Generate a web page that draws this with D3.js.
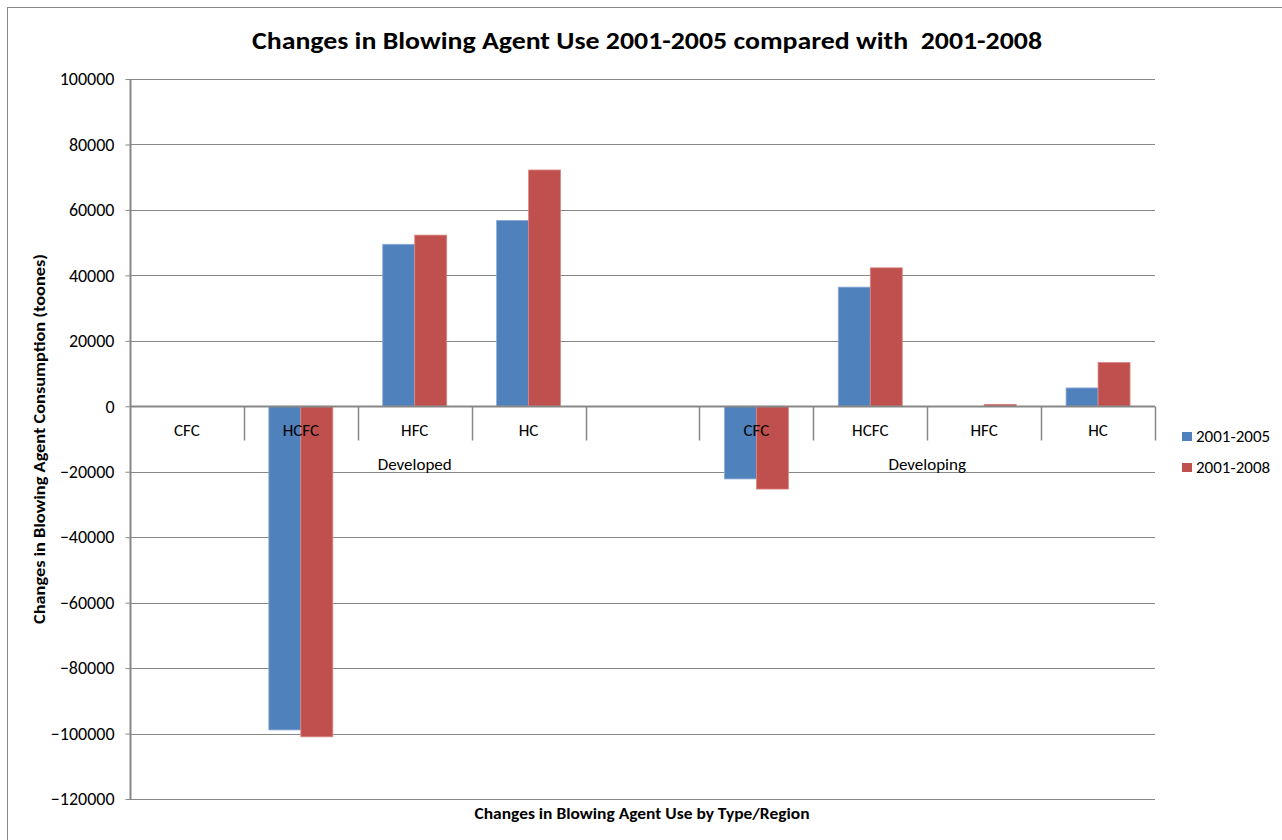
<!DOCTYPE html>
<html>
<head>
<meta charset="utf-8">
<script src="https://cdn.jsdelivr.net/npm/d3@7"></script>
<style>
  html, body { margin: 0; padding: 0; background: #fff; }
  svg { display: block; font-family: Carlito, Calibri, Lato, "Open Sans", sans-serif; }
</style>
</head>
<body>
<svg id="chart" width="1282" height="840"></svg>
<script>
// Category slots: technology type with its region (one empty slot separates the regions)
const categories = ["CFC", "HCFC", "HFC", "HC", "", "CFC", "HCFC", "HFC", "HC"];
const regions    = ["Developed", "Developed", "Developed", "Developed", "Developed",
                    "Developing", "Developing", "Developing", "Developing"];
const seriesNames = ["2001-2005", "2001-2008"];
const values2005 = [0, -98900, 49500, 56800, 0, -22200, 36400, 0, 5600];
const values2008 = [0, -101000, 52300, 72200, 0, -25300, 42300, 600, 13400];
const yTicks = [100000, 80000, 60000, 40000, 20000, 0, -20000, -40000, -60000, -80000, -100000, -120000];
const colors = ["#4F81BD", "#C0504D"];
const edgeColors = ["#8eaad6", "#d98986"];

const svg = d3.select("#chart");
const plotLeft = 130, plotRight = 1155, plotTop = 79, plotBottom = 799;
const gridColor = "#878787";
const labelSize = 17;

// outer chart frame
svg.append("rect")
  .attr("x", 7.5).attr("y", 7.5)
  .attr("width", 1400).attr("height", 1000)
  .attr("fill", "none").attr("stroke", gridColor).attr("stroke-width", 1);

const keys = categories.map((c, i) => i);
const x0 = d3.scaleBand().domain(keys).range([plotLeft, plotRight]).paddingInner(0).paddingOuter(0);
const x1 = d3.scaleBand().domain(seriesNames).range([0, x0.bandwidth()]).paddingInner(0).paddingOuter(0.78);
const y = d3.scaleLinear().domain([-120000, 100000]).range([plotBottom, plotTop]);

// horizontal gridlines
svg.append("g")
  .selectAll("line")
  .data(yTicks.filter(t => t !== 0))
  .join("line")
  .attr("x1", plotLeft).attr("x2", plotRight)
  .attr("y1", d => Math.round(y(d)) + 0.5).attr("y2", d => Math.round(y(d)) + 0.5)
  .attr("stroke", gridColor).attr("stroke-width", 1);

// y axis
const yAxis = svg.append("g")
  .attr("transform", `translate(${plotLeft + 0.5},0)`)
  .call(d3.axisLeft(y).tickValues(yTicks).tickSize(5).tickPadding(11).tickFormat(d3.format("d")));
yAxis.select(".domain").attr("stroke", gridColor).attr("stroke-width", 2).attr("d", `M0,${plotTop}V${plotBottom}`);
yAxis.selectAll(".tick line").attr("stroke", gridColor);
yAxis.selectAll(".tick text").attr("font-size", 18).attr("fill", "#000")
  .attr("font-family", "Carlito, Calibri, Lato, sans-serif");

// bars
const series = [values2005, values2008];
const barGroups = svg.append("g");
series.forEach((vals, si) => {
  barGroups.append("g")
    .selectAll("rect")
    .data(vals.map((v, i) => ({ i, v })))
    .join("rect")
    .attr("x", d => x0(d.i) + x1(seriesNames[si]))
    .attr("width", x1.bandwidth())
    .attr("y", d => y(Math.max(0, d.v)))
    .attr("height", d => Math.abs(y(d.v) - y(0)))
    .attr("fill", colors[si])
    .attr("stroke", edgeColors[si])
    .attr("stroke-width", d => d.v === 0 ? 0 : 0.8);
});

// category axis along zero
const zeroY = Math.round(y(0)) + 0.5;
svg.append("line")
  .attr("x1", plotLeft).attr("x2", plotRight)
  .attr("y1", zeroY).attr("y2", zeroY)
  .attr("stroke", gridColor).attr("stroke-width", 2);

const xAxis = svg.append("g");
const boundaries = keys.slice(1).map(k => x0(k)).concat([plotRight]);
xAxis.selectAll("line.tick")
  .data(boundaries)
  .join("line")
  .attr("class", "tick")
  .attr("x1", d => Math.round(d) + 0.5).attr("x2", d => Math.round(d) + 0.5)
  .attr("y1", zeroY).attr("y2", zeroY + 34)
  .attr("stroke", gridColor).attr("stroke-width", 1.5);

xAxis.selectAll("text.cat")
  .data(categories)
  .join("text")
  .attr("class", "cat")
  .attr("x", (d, i) => x0(i) + x0.bandwidth() / 2)
  .attr("y", zeroY + 29)
  .attr("text-anchor", "middle")
  .attr("font-size", labelSize)
  .attr("fill", "#000")
  .text(d => d);

// region labels centred under their slots
const regionNames = Array.from(new Set(regions));
xAxis.selectAll("text.region")
  .data(regionNames)
  .join("text")
  .attr("class", "region")
  .attr("x", r => {
    const idx = keys.filter(i => regions[i] === r);
    return (x0(idx[0]) + x0(idx[idx.length - 1]) + x0.bandwidth()) / 2;
  })
  .attr("y", zeroY + 63)
  .attr("text-anchor", "middle")
  .attr("font-size", labelSize)
  .attr("fill", "#000")
  .text(r => r);

// title
svg.append("text")
  .attr("x", 647).attr("y", 49)
  .attr("text-anchor", "middle")
  .attr("font-size", 24).attr("font-weight", "bold")
  .attr("textLength", 790).attr("lengthAdjust", "spacingAndGlyphs")
  .style("white-space", "pre")
  .attr("fill", "#000")
  .text("Changes in Blowing Agent Use 2001-2005 compared with  2001-2008");

// axis titles
svg.append("text")
  .attr("transform", "translate(45,439) rotate(-90)")
  .attr("text-anchor", "middle")
  .attr("font-size", 15).attr("font-weight", "bold")
  .attr("textLength", 370).attr("lengthAdjust", "spacingAndGlyphs")
  .attr("fill", "#000")
  .text("Changes in Blowing Agent Consumption (toones)");

svg.append("text")
  .attr("x", 642).attr("y", 819)
  .attr("text-anchor", "middle")
  .attr("font-size", 15).attr("font-weight", "bold")
  .attr("textLength", 335).attr("lengthAdjust", "spacingAndGlyphs")
  .attr("fill", "#000")
  .text("Changes in Blowing Agent Use by Type/Region");

// legend
const legend = svg.append("g").attr("transform", "translate(1182,432)");
seriesNames.forEach((name, i) => {
  const g = legend.append("g").attr("transform", `translate(0,${i * 31})`);
  g.append("rect").attr("width", 10).attr("height", 9).attr("fill", colors[i]);
  g.append("text").attr("x", 14).attr("y", 10)
    .attr("font-size", labelSize).attr("fill", "#000").text(name);
});
</script>
</body>
</html>
